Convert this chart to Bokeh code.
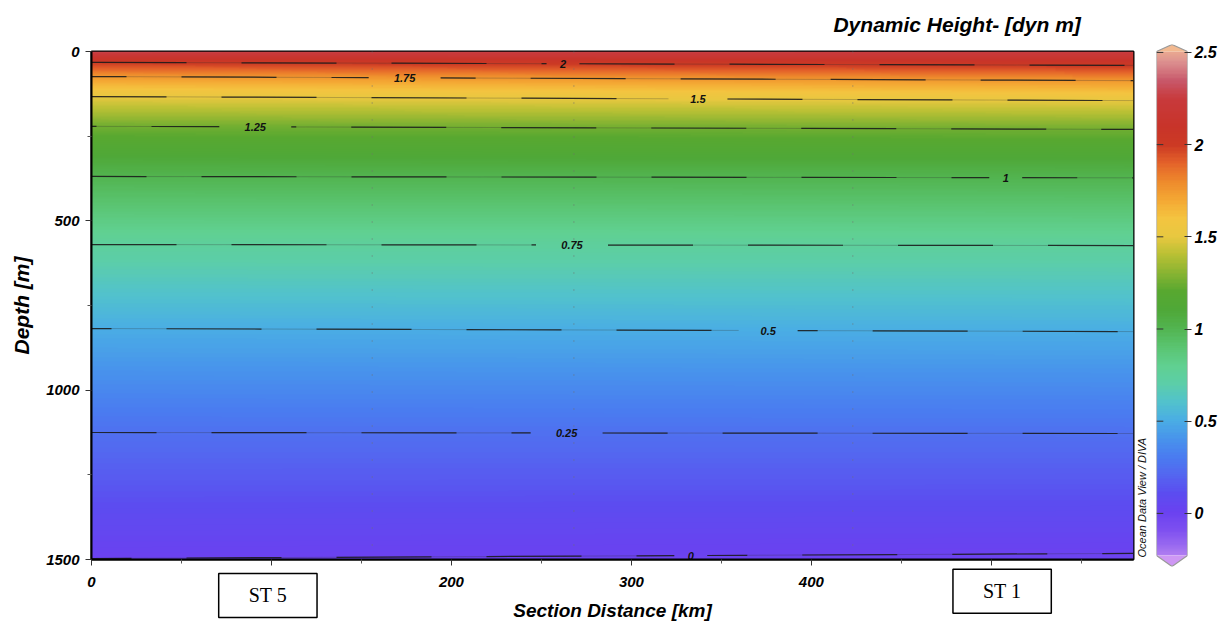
import numpy as np
from bokeh.plotting import figure
from bokeh.models import Range1d, LinearColorMapper, Label, LinearAxis, FixedTicker
from bokeh.layouts import row, column
from bokeh.embed import file_html
from bokeh.resources import INLINE
from bokeh.core.properties import value

# ---------------- data ----------------
section_km_max = 579
depth_max = 1500
contour_levels = [2.0, 1.75, 1.5, 1.25, 1.0, 0.75, 0.5, 0.25, 0.0]
contour_text = ["2", "1.75", "1.5", "1.25", "1", "0.75", "0.5", "0.25", "0"]
contour_depth_left = [32, 74, 133, 221, 369, 570, 818, 1125, 1497]
contour_depth_right = [41, 86, 145, 230, 373, 573, 827, 1128, 1482]
contour_label_km = [262, 174, 337, 91, 508, 267, 376, 264, 333]
surface_value_left = 2.28
surface_value_right = 2.26
bottom_value = -0.012
station_km = [156, 268, 423]
x_ticks = [0, 100, 200, 300, 400, 500]
x_minor = [50, 150, 250, 350, 450, 550]
y_ticks = [0, 500, 1000, 1500]
y_minor = [250, 750, 1250]
cbar_ticks = [0, 0.5, 1, 1.5, 2, 2.5]
station_names = ["ST 5", "ST 1"]
station_box_km = [98, 506]
station_box_depth = [1606, 1594]
title_text = "Dynamic Height- [dyn m]"
title_km = 481

# colour bar extent (value units)
cb_lo, cb_hi = -0.228, 2.505
cb_lo_tip, cb_hi_tip = -0.288, 2.543

# ODV-like palette anchors (value, colour)
anchors = [
    (-0.30, "#d49cf4"), (-0.20, "#a070f0"), (-0.10, "#7e50f0"), (0.00, "#6a42f0"),
    (0.10, "#5c4cf0"), (0.20, "#5466f0"), (0.30, "#4a7cf0"), (0.40, "#4894ec"),
    (0.50, "#4aaee4"), (0.60, "#52c2cc"), (0.70, "#5ccea8"), (0.80, "#60d090"),
    (0.90, "#5ac470"), (1.00, "#52b450"), (1.10, "#4fa838"), (1.20, "#58a830"),
    (1.30, "#88b432"), (1.40, "#b8c034"), (1.50, "#e8c840"), (1.60, "#f4c440"),
    (1.70, "#f4a834"), (1.80, "#ee8a2c"), (1.90, "#e4622a"), (2.00, "#cc3a24"),
    (2.10, "#c8342a"), (2.25, "#c83a3c"), (2.35, "#c8586a"), (2.45, "#dc9090"),
    (2.55, "#f4bc90"),
]

def hex2rgb(h):
    return [int(h[i:i + 2], 16) for i in (1, 3, 5)]

av = np.array([a[0] for a in anchors])
ac = np.array([hex2rgb(a[1]) for a in anchors], dtype=float)
pal_vals = np.linspace(cb_lo_tip, cb_hi_tip, 256)
palette = []
for v in pal_vals:
    r, g, b = (np.interp(v, av, ac[:, k]) for k in range(3))
    palette.append("#%02x%02x%02x" % (int(round(r)), int(round(g)), int(round(b))))
mapper = LinearColorMapper(palette=palette, low=cb_lo_tip, high=cb_hi_tip)

# field built from left/right profiles
dl = [0] + contour_depth_left + [depth_max]
vl = [surface_value_left] + contour_levels + [bottom_value]
dr = [0] + contour_depth_right + [depth_max]
vr = [surface_value_right] + contour_levels + [bottom_value]
ds = np.linspace(0, depth_max, 751)
xs = np.linspace(0, section_km_max, 120)
pl = np.interp(ds, dl, vl)
pr = np.interp(ds, dr, vr)
w = xs / section_km_max
z = pl[:, None] * (1 - w[None, :]) + pr[:, None] * w[None, :]

FONT = "Liberation Sans"

p = figure(frame_width=1042, frame_height=508,
           min_border_left=91, min_border_right=15, min_border_top=51, min_border_bottom=65,
           x_range=Range1d(0, section_km_max), y_range=Range1d(depth_max, 0),
           toolbar_location=None, output_backend="svg")
p.grid.visible = False
p.outline_line_color = "black"
p.outline_line_width = 2
p.background_fill_color = "white"

p.image(image=[z], x=0, y=0, dw=section_km_max, dh=depth_max, color_mapper=mapper)

# station dotted lines
p.segment(x0=station_km, y0=[0] * len(station_km), x1=station_km, y1=[depth_max] * len(station_km),
          line_color="#6f6f6f", line_alpha=0.6, line_width=1.5, line_dash="1 16")

# contour lines
def depth_at(i, xkm):
    t = xkm / section_km_max
    return contour_depth_left[i] * (1 - t) + contour_depth_right[i] * t

dash_offsets = [0, 60, 20, 90, 40, 10, 75, 30, 55]
for i, lev in enumerate(contour_levels):
    lx = contour_label_km[i]
    gap = (len(contour_text[i]) * 6.5 + 10) / 1.8
    segs_x = [[0, lx - gap], [lx + gap, section_km_max]]
    segs_y = [[depth_at(i, 0), depth_at(i, lx - gap)], [depth_at(i, lx + gap), depth_at(i, section_km_max)]]
    p.multi_line(xs=segs_x, ys=segs_y, line_color="#303030", line_alpha=0.35, line_width=0.8)
    p.multi_line(xs=segs_x, ys=segs_y, line_color="#1a1a1a", line_alpha=0.85, line_width=1.2,
                 line_dash="95 55", line_dash_offset=dash_offsets[i])

lab_y = [depth_at(i, contour_label_km[i]) for i in range(len(contour_levels))]
p.text(x=contour_label_km, y=lab_y, text=contour_text, text_font=value(FONT),
       text_font_style="bold italic", text_font_size="11px", text_color="#111111",
       text_align="center", text_baseline="middle")

# axes
p.xaxis.ticker = FixedTicker(ticks=x_ticks, minor_ticks=x_minor)
p.yaxis.ticker = FixedTicker(ticks=y_ticks, minor_ticks=y_minor)
for ax in (p.xaxis[0], p.yaxis[0]):
    ax.axis_line_width = 2
    ax.axis_line_color = "black"
    ax.major_tick_out = 6
    ax.major_tick_in = 0
    ax.minor_tick_out = 4
    ax.minor_tick_in = 0
    ax.major_tick_line_color = "#333333"
    ax.minor_tick_line_color = "#555555"
    ax.major_label_text_font = FONT
    ax.major_label_text_font_style = "bold italic"
    ax.major_label_text_font_size = "15px"
    ax.major_label_text_color = "black"
    ax.axis_label_text_font = FONT
    ax.axis_label_text_font_style = "bold italic"
    ax.axis_label_text_color = "black"
p.yaxis.axis_label = "Depth [m]"
p.yaxis.axis_label_text_font_size = "21px"
p.yaxis.major_label_standoff = 6
p.yaxis.axis_label_standoff = 10
p.xaxis.axis_label = "Section Distance [km]"
p.xaxis.axis_label_text_font_size = "19px"
p.xaxis.major_label_standoff = 11
p.xaxis.axis_label_standoff = 10

# title as a label-only axis above the frame
ta = LinearAxis(ticker=FixedTicker(ticks=[title_km], minor_ticks=[]),
                major_label_overrides={title_km: title_text})
ta.axis_line_color = None
ta.major_tick_in = 0
ta.major_tick_out = 0
ta.major_label_standoff = 16
ta.major_label_text_font = FONT
ta.major_label_text_font_style = "bold italic"
ta.major_label_text_font_size = "21px"
ta.major_label_text_color = "black"
p.add_layout(ta, "above")

# ODV credit (side panel so it is not clipped to the frame)
p.add_layout(Label(x=584, y=1494, text="Ocean Data View / DIVA", angle=np.pi / 2,
                   text_font=FONT, text_font_style="italic", text_font_size="11px",
                   text_align="left", text_baseline="middle", text_color="#111111"), "right")
# station boxes
for name, bx, by in zip(station_names, station_box_km, station_box_depth):
    p.add_layout(Label(x=bx, y=by, text=name, text_font="Liberation Serif",
                       text_font_size="20px", text_color="black",
                       text_align="center", text_baseline="middle",
                       background_fill_color="white", border_line_color="black",
                       border_line_width=1.5,
                       padding=dict(left=30, right=30, top=11, bottom=11)), "below")

# ---------------- colour bar ----------------
cb = figure(frame_width=31, frame_height=522, min_border_left=8, min_border_right=39,
            min_border_top=44, min_border_bottom=58,
            x_range=Range1d(0, 1), y_range=Range1d(cb_lo_tip, cb_hi_tip),
            y_axis_location="right", toolbar_location=None, output_backend="svg")
cb.grid.visible = False
cb.xaxis.visible = False
cb.outline_line_color = None
cbv = np.linspace(cb_lo, cb_hi, 400)[:, None]
cb.image(image=[cbv], x=0, y=cb_lo, dw=1, dh=cb_hi - cb_lo, color_mapper=mapper)
cb.patch(x=[0, 1, 0.5], y=[cb_hi, cb_hi, cb_hi_tip], fill_color=palette[-1], line_color=None)
cb.patch(x=[0, 1, 0.5], y=[cb_lo, cb_lo, cb_lo_tip], fill_color=palette[0], line_color=None)
cb.line(x=[0, 0, 0.5, 1, 1, 0.5, 0], y=[cb_lo, cb_hi, cb_hi_tip, cb_hi, cb_lo, cb_lo_tip, cb_lo],
        line_color="#9a9a9a", line_width=1.2)
# inner ticks on the left edge of the bar
cb.segment(x0=[0] * len(cbar_ticks), y0=cbar_ticks, x1=[0.22] * len(cbar_ticks), y1=cbar_ticks,
           line_color="#333333", line_width=1)
ya = cb.yaxis[0]
ya.ticker = FixedTicker(ticks=cbar_ticks, minor_ticks=[])
ya.axis_line_color = None
ya.major_tick_in = 3
ya.major_tick_out = 4
ya.major_tick_line_color = "#333333"
ya.major_label_standoff = 3
ya.major_label_text_font = FONT
ya.major_label_text_font_style = "bold italic"
ya.major_label_text_font_size = "16px"
ya.major_label_text_color = "black"

layout = row(p, column(cb))
open("out.html", "w").write(file_html(layout, INLINE))
